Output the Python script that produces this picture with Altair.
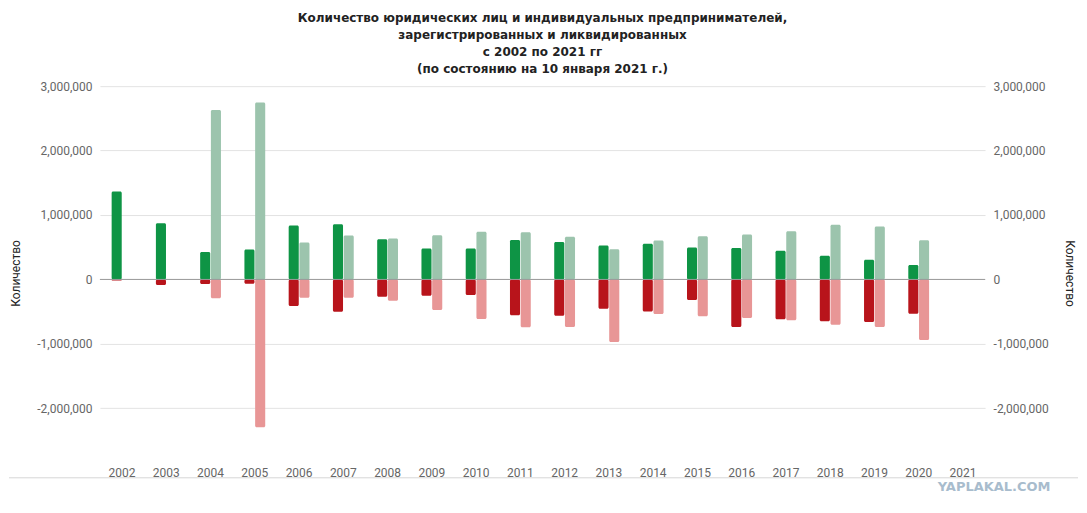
import pandas as pd
import altair as alt

# data
years = [str(y) for y in range(2002, 2022)]
ul_reg = [1364000, 873000, 424000, 465000, 837000, 857000, 625000, 480000, 480000, 610000,
          579000, 527000, 553000, 496000, 486000, 444000, 367000, 305000, 222000, None]
ip_reg = [None, None, 2630000, 2748000, 573000, 682000, 635000, 687000, 739000, 733000,
          661000, 470000, 604000, 671000, 697000, 749000, 847000, 821000, 609000, None]
ul_liq = [-15000, -88000, -72000, -67000, -413000, -501000, -269000, -253000, -243000, -558000,
          -563000, -455000, -496000, -320000, -739000, -620000, -651000, -661000, -532000, None]
ip_liq = [None, None, -294000, -2293000, -284000, -284000, -331000, -475000, -615000, -744000,
          -739000, -971000, -537000, -573000, -599000, -635000, -702000, -739000, -940000, None]

series = [
    ('ЮЛ зарегистрировано', 'ЮЛ', ul_reg),
    ('ИП зарегистрировано', 'ИП', ip_reg),
    ('ЮЛ ликвидировано', 'ЮЛ', ul_liq),
    ('ИП ликвидировано', 'ИП', ip_liq),
]
series_names = [s[0] for s in series]
series_colors = ['#0e9445', '#9cc4ad', '#b8141b', '#e89696']
tick_values = [-2000000, -1000000, 0, 1000000, 2000000, 3000000]

rows = []
for name, kind, vals in series:
    for y, v in zip(years, vals):
        if v is not None:
            rows.append({'Год': y, 'Тип': kind, 'Серия': name, 'Количество': v})
df = pd.DataFrame(rows)

font = 'Roboto'
label_expr = "replace(format(datum.value, ','), '\u2212', '-')"
y_scale = alt.Scale(domain=[-2800000, 3000000], nice=False, zero=True)

bars = (
    alt.Chart(df)
    .mark_bar(cornerRadius=1.5)
    .encode(
        x=alt.X('Год:O', scale=alt.Scale(domain=years, paddingInner=0.53, paddingOuter=0.265),
                axis=alt.Axis(title=None, labelAngle=0, domain=False, ticks=False,
                              labelPadding=8, labelColor='#666', labelFont=font, labelFontSize=12)),
        xOffset=alt.XOffset('Тип:N', sort=['ЮЛ', 'ИП'], scale=alt.Scale(paddingInner=0.06)),
        y=alt.Y('Количество:Q', stack=None, scale=y_scale,
                axis=alt.Axis(title='Количество', values=tick_values,
                              labelExpr=label_expr, domain=False, ticks=False, labelPadding=8,
                              gridColor='#e3e3e3', labelColor='#666', labelFont=font, labelFontSize=12,
                              titleFont=font, titleFontSize=12, titleFontWeight='normal',
                              titleColor='#222', titlePadding=14)),
        color=alt.Color('Серия:N', scale=alt.Scale(domain=series_names, range=series_colors), legend=None),
    )
)

zero = (
    alt.Chart(pd.DataFrame({'Количество': [0]}))
    .mark_rule(color='#9a9a9a', strokeWidth=1)
    .encode(
        y=alt.Y('Количество:Q', scale=y_scale,
                axis=alt.Axis(orient='right', title='Количество', values=tick_values,
                              labelExpr=label_expr, grid=False, domain=False, ticks=False,
                              labelPadding=8, labelColor='#666', labelFont=font, labelFontSize=12,
                              titleFont=font, titleFontSize=12, titleFontWeight='normal',
                              titleColor='#222', titlePadding=14))
    )
)

# card frame line under the chart and the site watermark
frame = (
    alt.Chart(pd.DataFrame({'k': [0]}))
    .mark_rule(color='#d6d6d6', strokeWidth=1)
    .encode(x=alt.value(-91), x2=alt.value(979), y=alt.value(392))
)
watermark = (
    alt.Chart(pd.DataFrame({'t': ['YAPLAKAL.COM']}))
    .mark_text(font='DejaVu Sans', fontSize=13, fontWeight='bold', color='#a8bccd', align='center')
    .encode(text='t:N', x=alt.value(895), y=alt.value(401))
)

chart = (
    alt.layer(bars, zero, frame, watermark)
    .resolve_axis(y='independent')
    .properties(
        width=886, height=374, padding={'left': 0, 'top': 4, 'right': 0, 'bottom': 2},
        title=alt.TitleParams(
            ['Количество юридических лиц и индивидуальных предпринимателей,',
             'зарегистрированных и ликвидированных',
             'с 2002 по 2021 гг',
             '(по состоянию на 10 января 2021 г.)'],
            font='DejaVu Sans', fontSize=12, fontWeight='bold', color='#222',
            lineHeight=17, offset=4, anchor='middle'),
    )
    .configure_view(stroke=None)
)

chart.save('out.html', embed_options={'renderer': 'svg', 'actions': False})
